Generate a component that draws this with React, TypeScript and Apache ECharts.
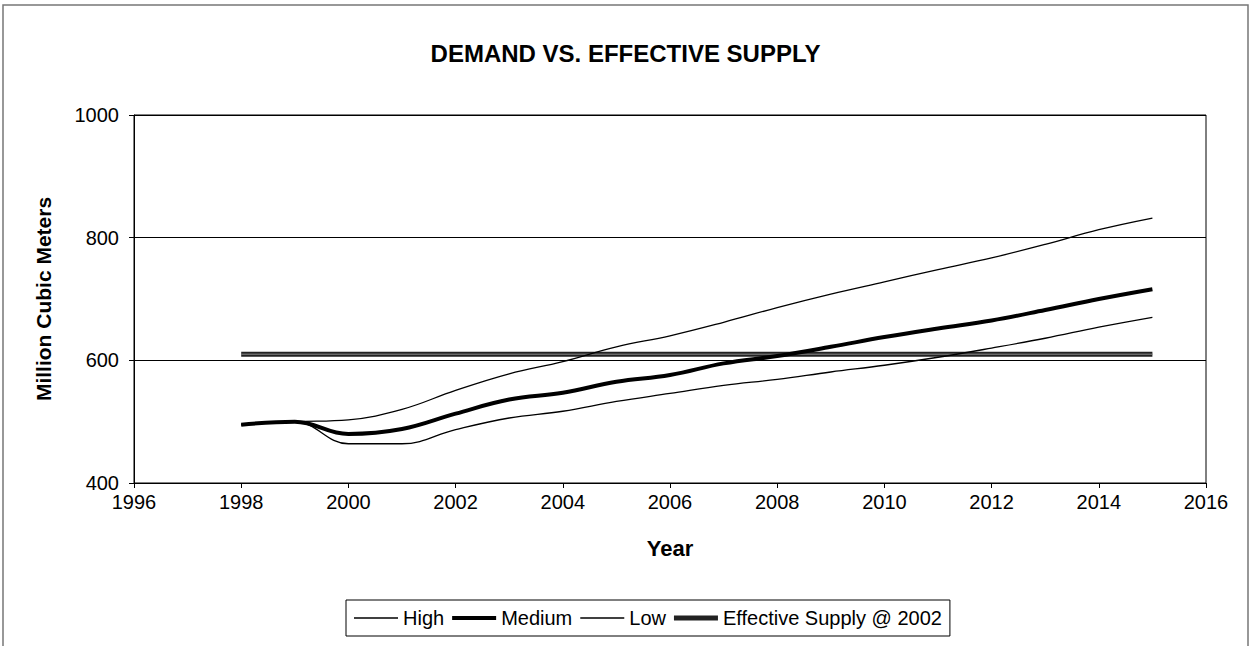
import React, { useEffect, useRef } from "react";
import * as echarts from "echarts";

// Demand scenarios and supply, million cubic meters per year
const years = [1998, 1999, 2000, 2001, 2002, 2003, 2004, 2005, 2006, 2007, 2008, 2009, 2010, 2011, 2012, 2013, 2014, 2015];
const highDemand = [495, 500, 503, 520, 551, 578, 598, 622, 640, 662, 686, 708, 728, 748, 767, 789, 813, 832];
const mediumDemand = [495, 500, 480, 488, 513, 536, 547, 565, 576, 595, 607, 622, 638, 652, 665, 682, 700, 716];
const lowDemand = [495, 500, 464, 464, 487, 506, 517, 533, 546, 559, 569, 581, 592, 605, 620, 636, 654, 670];
const supplyYears = [1998, 2015];
const supplyValues = [610, 610];

const seriesNames = ["High", "Medium", "Low", "Effective Supply @ 2002"];

const pairs = (xs: number[], ys: number[]) => xs.map((x, i) => [x, ys[i]]);

const FONT = "'Liberation Sans', Arial, Helvetica, sans-serif";

// legend swatches: flat bars whose thickness follows each line's width
const thinIcon = "path://M0,0H44V1.6H0Z";
const thickIcon = "path://M0,0H44V4H0Z";
const supplyIcon = "path://M0,0H44V5H0Z";

export default function App() {
  const ref = useRef<HTMLDivElement>(null);

  useEffect(() => {
    document.body.style.margin = "0";
    const chart = echarts.init(ref.current!, null, { renderer: "svg" });
    chart.setOption({
      animation: false,
      backgroundColor: "#ffffff",
      textStyle: { fontFamily: FONT, color: "#000" },
      title: {
        text: "DEMAND VS. EFFECTIVE SUPPLY",
        left: "center",
        top: 36,
        textStyle: { fontFamily: FONT, fontSize: 24, fontWeight: "bold", color: "#000" },
      },
      graphic: [
        {
          type: "rect",
          shape: { x: 3, y: 5, width: 1245, height: 660 },
          style: { fill: "none", stroke: "#777", lineWidth: 1.5 },
          silent: true,
        },
      ],
      legend: {
        data: [
          { name: seriesNames[0], icon: thinIcon },
          { name: seriesNames[1], icon: thickIcon },
          { name: seriesNames[2], icon: thinIcon },
          { name: seriesNames[3], icon: supplyIcon },
        ],
        left: 346,
        top: 600,
        padding: [8, 8, 8, 8],
        itemGap: 8,
        itemWidth: 44,
        itemHeight: 14,
        borderColor: "#000",
        borderWidth: 1,
        textStyle: { fontFamily: FONT, fontSize: 20, color: "#000" },
      },
      grid: {
        left: 134,
        right: 45,
        top: 115,
        bottom: 163,
        show: true,
        borderColor: "#000",
        borderWidth: 1,
        containLabel: false,
      },
      xAxis: {
        type: "value",
        min: 1996,
        max: 2016,
        interval: 2,
        name: "Year",
        nameLocation: "middle",
        nameGap: 54,
        nameTextStyle: { fontFamily: FONT, fontSize: 22, fontWeight: "bold", color: "#000" },
        axisLine: { show: true, lineStyle: { color: "#000", width: 1 } },
        axisTick: { show: true, length: 5, lineStyle: { color: "#000" } },
        axisLabel: { fontFamily: FONT, fontSize: 20, color: "#000", margin: 9, formatter: (v: number) => String(v) },
        splitLine: { show: false },
      },
      yAxis: {
        type: "value",
        min: 400,
        max: 1000,
        interval: 200,
        name: "Million Cubic Meters",
        nameLocation: "middle",
        nameGap: 80,
        nameTextStyle: { fontFamily: FONT, fontSize: 21, fontWeight: "bold", color: "#000" },
        axisLine: { show: true, lineStyle: { color: "#000", width: 1 } },
        axisTick: { show: true, length: 5, lineStyle: { color: "#000" } },
        axisLabel: { fontFamily: FONT, fontSize: 20, color: "#000", margin: 15, formatter: (v: number) => String(v) },
        splitLine: { show: true, lineStyle: { color: "#000", width: 1 } },
      },
      series: [
        {
          name: "Effective Supply @ 2002",
          type: "line",
          data: pairs(supplyYears, supplyValues),
          symbol: "none",
          z: 2,
          itemStyle: { color: "#222" },
          lineStyle: { color: "#222", width: 5 },
        },
        {
          name: "supply-core",
          type: "line",
          data: pairs(supplyYears, supplyValues),
          symbol: "none",
          z: 3,
          silent: true,
          lineStyle: { color: "#8a8a8a", width: 1 },
        },
        {
          name: "High",
          type: "line",
          data: pairs(years, highDemand),
          smooth: 0.4,
          symbol: "none",
          z: 4,
          itemStyle: { color: "#000" },
          lineStyle: { color: "#000", width: 1.3 },
        },
        {
          name: "Medium",
          type: "line",
          data: pairs(years, mediumDemand),
          smooth: 0.4,
          symbol: "none",
          z: 4,
          itemStyle: { color: "#000" },
          lineStyle: { color: "#000", width: 4 },
        },
        {
          name: "Low",
          type: "line",
          data: pairs(years, lowDemand),
          smooth: 0.4,
          symbol: "none",
          z: 4,
          itemStyle: { color: "#000" },
          lineStyle: { color: "#000", width: 1.3 },
        },
      ],
    });
    return () => chart.dispose();
  }, []);

  return <div ref={ref} style={{ width: 1251, height: 646 }} />;
}
